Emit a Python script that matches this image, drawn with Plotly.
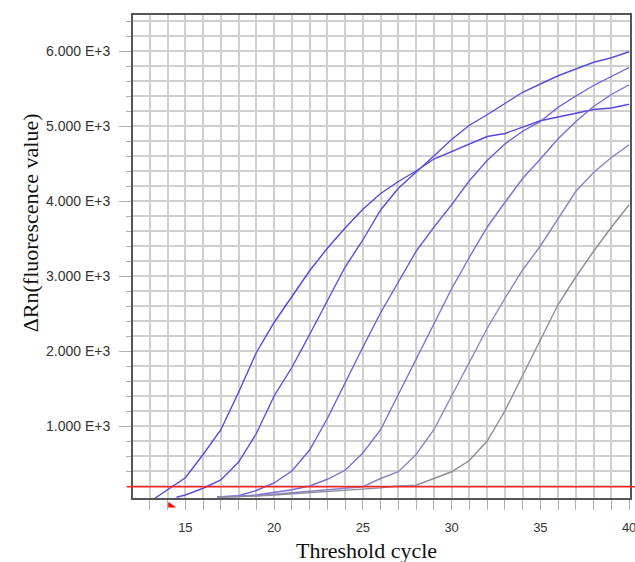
import plotly.graph_objects as go

# ---- data ----
c1_x = [13.3, 14, 15, 16, 17, 18, 19, 20, 21, 22, 23, 24, 25, 26, 27, 28, 29, 30, 31, 32, 33, 34, 35, 36, 37, 38, 39, 40]
c1_y = [40, 150, 310, 620, 950, 1450, 1980, 2380, 2720, 3070, 3370, 3640, 3890, 4100, 4260, 4400, 4560, 4660, 4770, 4860, 4900, 4990, 5070, 5120, 5170, 5220, 5240, 5290]

c2_x = [14.5, 15, 16, 17, 18, 19, 20, 21, 22, 23, 24, 25, 26, 27, 28, 29, 30, 31, 32, 33, 34, 35, 36, 37, 38, 39, 40]
c2_y = [50, 80, 170, 280, 520, 900, 1400, 1780, 2220, 2680, 3120, 3480, 3880, 4170, 4380, 4600, 4820, 5010, 5150, 5300, 5450, 5560, 5670, 5760, 5850, 5910, 5990]

c3_x = [16.8, 18, 19, 20, 21, 22, 23, 24, 25, 26, 27, 28, 29, 30, 31, 32, 33, 34, 35, 36, 37, 38, 39, 40]
c3_y = [55, 70, 140, 240, 400, 680, 1100, 1580, 2050, 2510, 2920, 3330, 3650, 3950, 4270, 4540, 4760, 4930, 5060, 5250, 5400, 5540, 5660, 5780]

c4_x = [16.8, 18, 19, 20, 21, 22, 23, 24, 25, 26, 27, 28, 29, 30, 31, 32, 33, 34, 35, 36, 37, 38, 39, 40]
c4_y = [55, 60, 80, 110, 150, 200, 290, 410, 640, 950, 1420, 1900, 2380, 2830, 3250, 3650, 3980, 4300, 4560, 4830, 5060, 5260, 5420, 5550]

c5_x = [16.8, 18, 19, 20, 21, 22, 23, 24, 25, 26, 27, 28, 29, 30, 31, 32, 33, 34, 35, 36, 37, 38, 39, 40]
c5_y = [55, 60, 70, 90, 110, 130, 150, 170, 190, 300, 390, 620, 950, 1400, 1850, 2300, 2700, 3080, 3400, 3770, 4130, 4380, 4580, 4750]

c6_x = [16.8, 18, 19, 20, 21, 22, 23, 24, 25, 26, 27, 28, 29, 30, 31, 32, 33, 34, 35, 36, 37, 38, 39, 40]
c6_y = [50, 55, 65, 80, 95, 110, 125, 140, 160, 175, 200, 210, 300, 390, 540, 800, 1200, 1680, 2150, 2620, 2990, 3330, 3650, 3950]

threshold = 190

y_tickvals = [1000, 2000, 3000, 4000, 5000, 6000]
y_ticktext = ["1.000 E+3", "2.000 E+3", "3.000 E+3", "4.000 E+3", "5.000 E+3", "6.000 E+3"]
x_tickvals = [15, 20, 25, 30, 35, 40]

curves = [
    (c1_x, c1_y, "#5548e0"),
    (c2_x, c2_y, "#5a4edc"),
    (c3_x, c3_y, "#6a5fd8"),
    (c4_x, c4_y, "#7a70d4"),
    (c5_x, c5_y, "#8a84c8"),
    (c6_x, c6_y, "#8c8c9c"),
]

fig = go.Figure()
for xs, ys, col in curves:
    fig.add_trace(go.Scatter(x=xs, y=ys, mode="lines",
                             line=dict(color=col, width=1.4),
                             showlegend=False, hoverinfo="skip"))

grid = "#cfcfcf"
fig.update_xaxes(
    range=[12.05, 40.05], tickmode="array", tickvals=x_tickvals,
    ticks="outside", ticklen=10, tickcolor="#b0b0b0", tickwidth=1,
    showgrid=True, gridcolor=grid, gridwidth=1.5,
    minor=dict(dtick=1, tick0=0, ticks="outside", ticklen=10, tickcolor="#b0b0b0",
               showgrid=True, gridcolor=grid, gridwidth=1.5),
    showline=True, linecolor="#555555", linewidth=2, mirror=True,
    tickfont=dict(family="Liberation Sans, Arial", size=13, color="#333333"),
    ticklabelstandoff=6, zeroline=False, automargin=False, ticklabeloverflow="allow",
)
fig.update_yaxes(
    range=[40, 6480], tickmode="array", tickvals=y_tickvals, ticktext=y_ticktext,
    ticks="outside", ticklen=12, tickcolor="#b0b0b0", tickwidth=1,
    showgrid=True, gridcolor=grid, gridwidth=1.5,
    minor=dict(dtick=200, tick0=0, ticks="outside", ticklen=5, tickcolor="#b0b0b0",
               showgrid=True, gridcolor=grid, gridwidth=1.5),
    showline=True, linecolor="#555555", linewidth=2, mirror=True,
    tickfont=dict(family="Liberation Sans, Arial", size=14, color="#333333"),
    ticklabelstandoff=6, zeroline=False, automargin=False, ticklabeloverflow="allow",
)

# threshold line
fig.add_shape(type="line", xref="paper", yref="y", x0=-0.012, x1=1.01,
              y0=threshold, y1=threshold, line=dict(color="#ff2020", width=1.5))
# red marker below axis
fig.add_shape(type="path", xref="x", yref="paper",
              path="M 14.05 -0.009 L 14.05 -0.019 L 14.45 -0.019 Z",
              fillcolor="#ff0000", line=dict(color="#ff0000", width=0.5))

fig.add_annotation(text="Threshold cycle", xref="paper", yref="paper",
                   x=0.469, y=-0.108, yanchor="middle", showarrow=False,
                   font=dict(family="Liberation Serif, Times New Roman", size=22, color="#111111"))
fig.add_annotation(text="ΔRn(fluorescence value)", xref="paper", yref="paper",
                   x=-0.207, y=0.569, xanchor="center", yanchor="middle",
                   textangle=-90, showarrow=False,
                   font=dict(family="Liberation Serif, Times New Roman", size=22, color="#111111"))

fig.update_layout(
    width=635, height=562,
    margin=dict(l=133, r=5, t=15, b=64),
    paper_bgcolor="white", plot_bgcolor="white",
)

fig.write_html("out.html")
